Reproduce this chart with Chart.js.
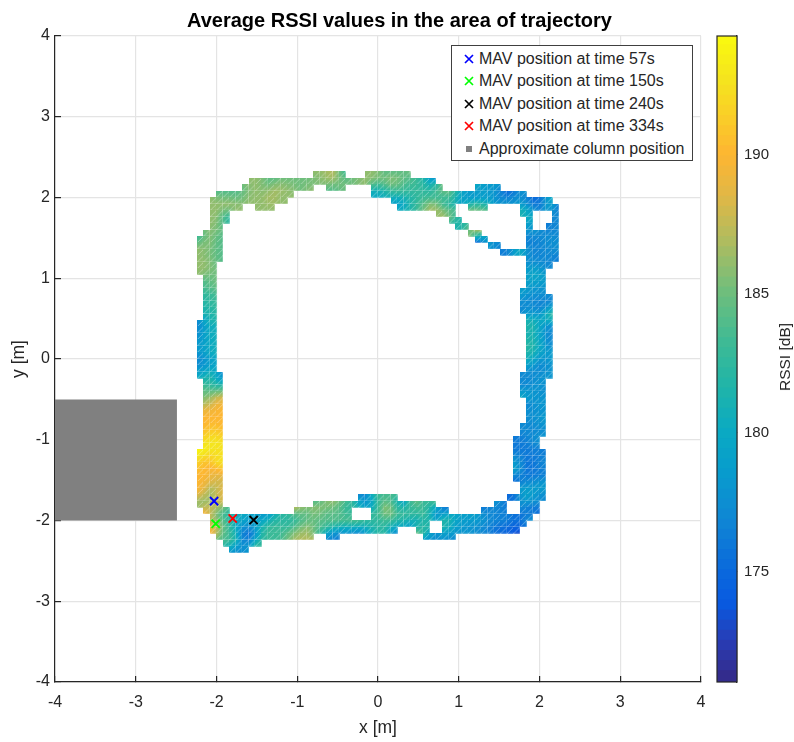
<!DOCTYPE html>
<html>
<head>
<meta charset="utf-8">
<title>Average RSSI</title>
<script src="https://cdn.jsdelivr.net/npm/chart.js@4/dist/chart.umd.min.js"></script>
<style>
    html, body { margin: 0; padding: 0; background: #fff; }
    #wrap { position: relative; width: 794px; height: 742px; overflow: hidden; font-family: "Liberation Sans", sans-serif; color: #262626; }
    canvas { position: absolute; top: 0; }
    #legend { position: absolute; left: 451px; top: 45px; width: 240px; height: 114px; background: #fff; border: 1px solid #404040; }
    #legend div { position: absolute; left: 27px; font-size: 16px; line-height: 18px; white-space: nowrap; }
    #legend svg { position: absolute; left: -15px; top: 4px; }
    #cbLabel { position: absolute; left: 785px; top: 357px; font-size: 15.5px; white-space: nowrap; transform: translate(-50%, -50%) rotate(-90deg); }
</style>
</head>
<body>
<div id="wrap">
    <canvas id="mapChart" width="794" height="742" style="left:0"></canvas>
    <canvas id="barChart" width="94" height="742" style="left:700px"></canvas>
    <div id="legend"></div>
    <div id="cbLabel">RSSI [dB]</div>
</div>
<script>
// ---------------------------------------------------------------------------
// DATA
// ---------------------------------------------------------------------------

const axisTicks = [-4, -3, -2, -1, 0, 1, 2, 3, 4];
const cbTicks = [175, 180, 185, 190];
const cbMin = 171.04;
const cbMax = 194.28;
const cellSize = 0.08; // metres per grid cell

const markerLabels = ["MAV position at time 57s", "MAV position at time 150s", "MAV position at time 240s", "MAV position at time 334s"];
const markerColors = ["#0000ff", "#00ff00", "#000000", "#ff0000"];
const markerX = [-2.03, -2.01, -1.54, -1.80];
const markerY = [-1.76, -2.04, -1.995, -1.975];

const columnLabel = "Approximate column position";
const columnX = [-4, -2.49, -2.49, -4, -4];
const columnY = [-0.5, -0.5, -2, -2, -0.5];

// [row, first column, RSSI of each cell in the run]
const rssiRuns = [
    [29, -10, [186,186,187,187,183]],
    [29, -2, [186,186,185,184,185,184,185]],
    [28, -20, [186,186,185,184,185,185,185,185,185,185,185,186,186,186,185,185,185,186,186,185,185,186,187,185,184,183,183,180,178]],
    [27, -21, [185,186,186,185,186,187,186,186,185,185,186]],
    [27, -8, [184,184,185]],
    [27, -1, [181,182,183,184,183,183,183,183,182,183,185]],
    [27, 15, [180,178,179,178]],
    [26, -25, [184,184,184,184,185,186,186,186,187,186,186,186]],
    [26, -1, [180,180,181,182,183,182,182,183,182,182,183,185,184,180,179,178,178,179,178,177,175,175,177,178]],
    [25, -26, [186,186,186,186,185,186,186,186,186,187,186,186]],
    [25, 2, [179,178,181,182,183,184,185,183,182,182,179,179,179,179,179,179,178,178,178,178,177,175,175,176,180]],
    [24, -26, [186,186,186,186,186]],
    [24, -19, [186,186,186]],
    [24, 3, [180,181,182,184,186,187,186,183,182]],
    [24, 14, [185,185,184]],
    [24, 22, [181,178,176,177,180,176]],
    [23, -26, [186,186,183]],
    [23, 9, [186,187,185]],
    [23, 22, [181,180]],
    [23, 27, [177]],
    [22, -26, [186,185,182]],
    [22, 11, [183,181]],
    [22, 23, [180]],
    [22, 27, [177]],
    [21, -26, [186,185]],
    [21, 12, [181,183]],
    [21, 23, [178]],
    [21, 26, [176,177]],
    [20, -27, [185,186,184]],
    [20, 14, [186,187]],
    [20, 23, [178,178,177,177,177]],
    [19, -28, [183,186,185,184]],
    [19, 15, [174,179]],
    [19, 23, [176,176,177,178,177]],
    [18, -28, [186,186,185,184]],
    [18, 17, [178,177]],
    [18, 23, [177,177,177,177,178]],
    [17, -28, [186,185,185,184]],
    [17, 19, [176,177,180,180,177,176,177,177,177]],
    [16, -28, [186,186,185,184]],
    [16, 23, [177,177,177,177,176]],
    [15, -28, [186,186,185]],
    [15, 23, [178,178,177,177]],
    [14, -28, [186,186,185]],
    [14, 23, [179,180,178]],
    [13, -27, [184,185]],
    [13, 23, [179,180,179]],
    [12, -27, [184,185]],
    [12, 23, [179,178,178]],
    [11, -27, [183,184]],
    [11, 22, [179,178,178,178]],
    [10, -27, [182,183]],
    [10, 22, [178,177,177,177,177]],
    [9, -27, [182,183]],
    [9, 22, [177,177,177,176,177]],
    [8, -27, [181,182]],
    [8, 22, [177,178,177,177,181]],
    [7, -27, [181,182]],
    [7, 23, [180,179,180,183]],
    [6, -28, [177,180,181]],
    [6, 23, [182,181,179,178]],
    [5, -28, [177,180,180]],
    [5, 23, [181,181,178,177]],
    [4, -28, [178,180,181]],
    [4, 23, [181,181,178,177]],
    [3, -28, [178,179,180]],
    [3, 23, [182,181,179,177]],
    [2, -28, [179,180,181]],
    [2, 23, [182,181,179,178]],
    [1, -28, [177,179,180]],
    [1, 23, [181,180,178,179]],
    [0, -28, [177,178,179]],
    [0, 23, [180,178,177,178]],
    [-1, -28, [178,179,180]],
    [-1, 23, [178,177,177,178]],
    [-2, -28, [180,181,182,177]],
    [-2, 22, [177,177,177,178,178]],
    [-3, -27, [182,181,180]],
    [-3, 22, [177,177,178,178]],
    [-4, -27, [184,183,183]],
    [-4, 22, [177,177,178,177]],
    [-5, -27, [185,186,187]],
    [-5, 22, [180,179,178,178]],
    [-6, -27, [186,188,189]],
    [-6, 23, [177,178,178]],
    [-7, -27, [188,189,190]],
    [-7, 23, [177,178,178]],
    [-8, -27, [190,190,190]],
    [-8, 23, [178,177,178]],
    [-9, -27, [190,190,190]],
    [-9, 23, [177,178,179]],
    [-10, -27, [190,191,190]],
    [-10, 22, [177,177,177,177]],
    [-11, -27, [191,192,191]],
    [-11, 22, [177,177,177,178]],
    [-12, -27, [192,193,192]],
    [-12, 21, [176,176,177,178]],
    [-13, -27, [193,193,193]],
    [-13, 21, [176,176,176,177]],
    [-14, -28, [194,193,192,192]],
    [-14, 21, [176,176,176,176,176]],
    [-15, -28, [192,190,192,193]],
    [-15, 21, [178,176,176,176,177]],
    [-16, -28, [191,190,191,192]],
    [-16, 21, [179,176,175,176,177]],
    [-17, -28, [190,190,188,190]],
    [-17, 21, [179,176,176,176,176]],
    [-18, -28, [190,190,189,188]],
    [-18, 21, [175,176,176,176,177]],
    [-19, -28, [190,188,187,188]],
    [-19, 22, [178,178,179,179]],
    [-20, -28, [190,187,186,189]],
    [-20, 22, [179,179,178,178]],
    [-21, -28, [187,186,187,188]],
    [-21, -3, [177,177,183,183,184,183]],
    [-21, 20, [175,176,179,179,178,177]],
    [-22, -28, [186,186,187,188]],
    [-22, -10, [184,185,186,186,184,183,182,180,178,180,185,185,183,178,181,185,184,182,184]],
    [-22, 18, [178,176]],
    [-22, 22, [178,177,177]],
    [-23, -27, [190,187,185,183]],
    [-23, -13, [187,185,186,187,186,184,184,183,182]],
    [-23, -1, [182,185,187,185,183,183,182,183,183,178,177,176]],
    [-23, 16, [176,177,176,176]],
    [-23, 22, [176,175,175]],
    [-24, -26, [186,184,182,181,180,180,179,179,178,180,181,183,182,183,183,184,184,183,184,185,184,184]],
    [-24, -1, [183,183,185,183,182,183,182,182,184,179,179,183,180,179,179,179,179,178,177,177,177,176,175,176,178]],
    [-25, -26, [188,186,184,182,179,178,178,180,181,183,183,182,182,184,185,186,185,185,184,183,183,183,184,183,182,182,182,183,181,181,179,179,180,181]],
    [-25, 10, [182,180,179,178,178,178,177,177,176,176,176,175,176]],
    [-26, -26, [190,186,183,181,178,176,177,180,183,183,183,183,184,185,186,186,183,182,180,179,178,178,177,177,180,181,183,181,177]],
    [-26, 6, [185,182]],
    [-26, 10, [181,179,178,178,178,177,177,176,175,175,174,173]],
    [-27, -25, [185,184,184,179,174,175,180,183,183,183,184,186,187,187,187]],
    [-27, -8, [177,176]],
    [-27, 7, [179,177,178,178,177]],
    [-28, -24, [182,182,179,176,181,183]],
    [-29, -23, [178,177,178]]
];

// parula anchors: [fraction, r, g, b]
const colorStops = [
    [0, 53, 42, 135], [0.06, 40, 60, 180], [0.12, 8, 90, 225], [0.17, 10, 105, 220],
    [0.25, 15, 135, 212], [0.32, 8, 155, 205], [0.385, 10, 170, 195], [0.45, 30, 180, 170],
    [0.52, 60, 186, 150], [0.60, 110, 190, 125], [0.68, 175, 188, 95], [0.75, 225, 183, 70],
    [0.815, 253, 182, 50], [0.87, 250, 205, 40], [0.93, 245, 228, 30], [1, 249, 251, 14]
];

// ---------------------------------------------------------------------------
// COLOURS
// ---------------------------------------------------------------------------

function colorOf(value) {
    const f = Math.min(1, Math.max(0, (value - cbMin) / (cbMax - cbMin)));
    let i = 0;
    while (i < colorStops.length - 2 && f > colorStops[i + 1][0]) i++;
    const a = colorStops[i], b = colorStops[i + 1];
    const t = (f - a[0]) / (b[0] - a[0]);
    return [1, 2, 3].map(k => Math.round(a[k] + (b[k] - a[k]) * t));
}

// ---------------------------------------------------------------------------
// CELLS
// ---------------------------------------------------------------------------

const cellMap = new Map();
const cells = [];
for (const [row, col, values] of rssiRuns) {
    values.forEach((v, k) => {
        cells.push({ x: (col + k + 0.5) * cellSize, y: (row - 0.5) * cellSize, row: row, col: col + k, v: v });
        cellMap.set(row + "," + (col + k), v);
    });
}

// the reference is drawn with interpolated shading, so each tile blends towards its neighbours
function cornerValue(row, col) {
    const around = [[row, col], [row, col - 1], [row + 1, col], [row + 1, col - 1]];
    const found = around.map(p => cellMap.get(p[0] + "," + p[1])).filter(v => v !== undefined);
    return found.reduce((s, v) => s + v, 0) / found.length;
}

function makeTile(cell) {
    const size = 7;
    const tile = document.createElement("canvas");
    tile.width = size;
    tile.height = size;
    const c = tile.getContext("2d");
    const img = c.createImageData(size, size);
    const tl = cornerValue(cell.row, cell.col), tr = cornerValue(cell.row, cell.col + 1);
    const bl = cornerValue(cell.row - 1, cell.col), br = cornerValue(cell.row - 1, cell.col + 1);
    for (let py = 0; py < size; py++) {
        for (let px = 0; px < size; px++) {
            const u = (px + 0.5) / size, w = (py + 0.5) / size;
            const v = (tl * (1 - u) + tr * u) * (1 - w) + (bl * (1 - u) + br * u) * w;
            const rgb = colorOf(v);
            const o = (py * size + px) * 4;
            img.data[o] = rgb[0];
            img.data[o + 1] = rgb[1];
            img.data[o + 2] = rgb[2];
            img.data[o + 3] = 255;
        }
    }
    c.putImageData(img, 0, 0);
    // light seams of the triangle mesh
    c.strokeStyle = "rgba(255,255,255,0.4)";
    c.lineWidth = 0.9;
    c.beginPath();
    c.moveTo(0, size - 0.3); c.lineTo(size, size - 0.3);
    c.moveTo(size - 0.3, 0); c.lineTo(size - 0.3, size);
    c.moveTo(0, size); c.lineTo(size, 0);
    c.stroke();
    return tile;
}

const tiles = cells.map(makeTile);

// ---------------------------------------------------------------------------
// MAIN CHART
// ---------------------------------------------------------------------------

const mainFont = "'Liberation Sans', sans-serif";
const inkColor = "#262626";

function axisOptions(titleText, forceSize, tickPad) {
    return {
        type: "linear",
        min: -4,
        max: 4,
        afterBuildTicks: scale => { scale.ticks = axisTicks.map(v => ({ value: v })); },
        afterFit: forceSize,
        border: { color: inkColor, width: 1.2 },
        grid: { color: "#e4e4e4", lineWidth: 1.2, tickLength: -6, tickColor: inkColor, tickWidth: 1.2 },
        ticks: { color: inkColor, font: { family: mainFont, size: 16 }, padding: tickPad, maxRotation: 0, callback: v => String(v) },
        title: { display: true, text: titleText, color: inkColor, font: { family: mainFont, size: 17.5 }, padding: { top: 9, bottom: 3 } }
    };
}

const markerSets = markerLabels.map((label, i) => ({
    label: label,
    data: [{ x: markerX[i], y: markerY[i] }],
    pointStyle: "crossRot",
    pointRadius: 5.8,
    pointBorderColor: markerColors[i],
    pointBorderWidth: 1.9
}));

// the title is centred over the whole figure, not over the axes
const titleCentre = {
    id: "titleCentre",
    afterLayout(chart) {
        chart.titleBlock.right = 799;
    }
};

new Chart(document.getElementById("mapChart"), {
    type: "scatter",
    data: {
        datasets: markerSets.concat([
            {
                label: columnLabel,
                data: columnX.map((x, i) => ({ x: x, y: columnY[i] })),
                showLine: true,
                fill: "shape",
                backgroundColor: "#808080",
                borderColor: "#808080",
                borderWidth: 0,
                pointRadius: 0
            },
            {
                label: "RSSI",
                data: cells.map(c => ({ x: c.x, y: c.y })),
                pointStyle: ctx => tiles[ctx.dataIndex],
                pointRadius: 4,
                pointHoverRadius: 4
            }
        ])
    },
    plugins: [titleCentre],
    options: {
        responsive: false,
        animation: false,
        layout: { padding: { left: 0, right: 93, top: 0, bottom: 0 } },
        scales: {
            x: axisOptions("x [m]", s => { s.height = 60; }, 17),
            y: axisOptions("y [m]", s => { s.width = 55; }, 11)
        },
        plugins: {
            legend: { display: false },
            tooltip: { enabled: false },
            title: {
                display: true,
                text: "Average RSSI values in the area of trajectory",
                color: "#000",
                font: { family: mainFont, size: 20, weight: "bold" },
                padding: { top: 9, bottom: 3 }
            }
        }
    }
});

// ---------------------------------------------------------------------------
// LEGEND
// ---------------------------------------------------------------------------

const legend = document.getElementById("legend");
const legendTops = [4, 26, 49, 71, 94];

markerLabels.concat([columnLabel]).forEach((label, i) => {
    const row = document.createElement("div");
    row.style.top = legendTops[i] + "px";
    const mark = i < markerLabels.length
        ? '<svg width="10" height="10"><path d="M1 1L9 9M9 1L1 9" stroke="' + markerColors[i] + '" stroke-width="1.7"/></svg>'
        : '<svg width="10" height="10"><rect x="2" y="2" width="6" height="6" fill="#808080"/></svg>';
    row.innerHTML = mark + label;
    legend.appendChild(row);
});

// ---------------------------------------------------------------------------
// COLOUR BAR
// ---------------------------------------------------------------------------

const cbLevels = 64;
const cbSets = [];
for (let i = 0; i < cbLevels; i++) {
    const lo = cbMin + (cbMax - cbMin) * i / cbLevels;
    const hi = cbMin + (cbMax - cbMin) * (i + 1) / cbLevels;
    const rgb = colorOf((lo + hi) / 2);
    cbSets.push({
        data: [[lo, hi + (i < cbLevels - 1 ? 0.05 : 0)]],
        backgroundColor: "rgb(" + rgb.join(",") + ")",
        barPercentage: 1,
        categoryPercentage: 1,
        grouped: false
    });
}

const cbFrame = {
    id: "cbFrame",
    afterDraw(chart) {
        const a = chart.chartArea, c = chart.ctx;
        c.save();
        c.strokeStyle = inkColor;
        c.lineWidth = 1.2;
        c.strokeRect(a.left, a.top, a.right - a.left, a.bottom - a.top);
        c.restore();
    }
};

new Chart(document.getElementById("barChart"), {
    type: "bar",
    data: { labels: ["RSSI"], datasets: cbSets },
    plugins: [cbFrame],
    options: {
        responsive: false,
        animation: false,
        layout: { padding: { left: 17, right: 17, top: 36, bottom: 60 } },
        scales: {
            x: { display: false },
            y: {
                position: "right",
                min: cbMin,
                max: cbMax,
                afterBuildTicks: scale => { scale.ticks = cbTicks.map(v => ({ value: v })); },
                afterFit: s => { s.width = 40; },
                border: { color: inkColor, width: 1.2 },
                grid: { drawOnChartArea: false, tickLength: -6, tickColor: inkColor, tickWidth: 1.2 },
                ticks: { color: inkColor, font: { family: mainFont, size: 15 }, padding: 13, callback: v => String(v) }
            }
        },
        plugins: { legend: { display: false }, tooltip: { enabled: false }, title: { display: false } }
    }
});
</script>
</body>
</html>
